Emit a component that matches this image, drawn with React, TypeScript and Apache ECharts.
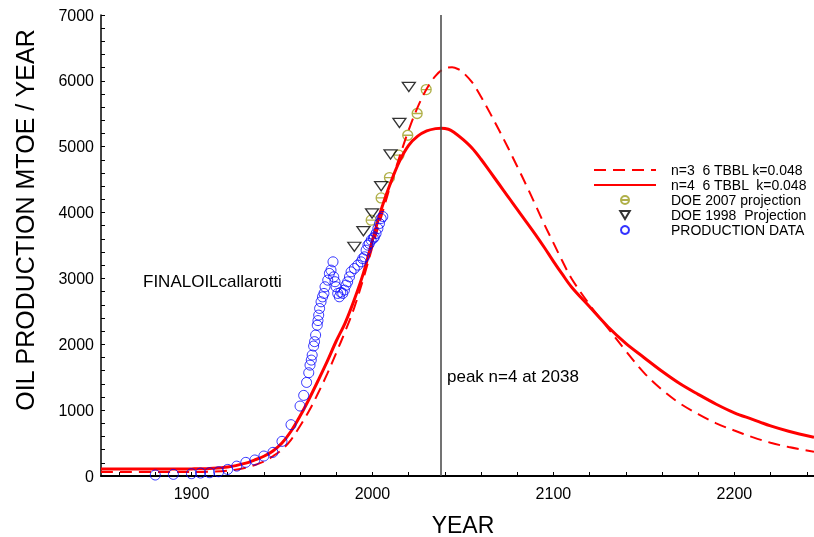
import React, { useEffect, useRef } from "react";
import * as echarts from "echarts";

const FONT = '"Liberation Sans", Arial, Helvetica, sans-serif';

const xLabelValues = [1900, 2000, 2100, 2200];
const xTickValues = [1860, 1880, 1900, 1920, 1940, 1960, 1980, 2000, 2020, 2040, 2060, 2080, 2100, 2120, 2140, 2160, 2180, 2200, 2220, 2240];

const seriesNames = [
  "n=3  6 TBBL k=0.048",
  "n=4  6 TBBL  k=0.048",
  "DOE 2007 projection",
  "DOE 1998  Projection",
  "PRODUCTION DATA",
];

const curveN3: [number, number][] = [
  [1850, 60], [1900, 60], [1910, 65], [1920, 80], [1930, 125], [1940, 220], [1945, 300],
  [1950, 400], [1955, 550], [1960, 760], [1965, 990], [1970, 1260], [1975, 1550],
  [1980, 1870], [1985, 2200], [1990, 2560], [1995, 3000], [2000, 3480], [2005, 3950],
  [2010, 4420], [2015, 4850], [2020, 5250], [2025, 5600], [2030, 5880], [2035, 6080],
  [2040, 6190], [2044, 6205], [2048, 6170], [2050, 6130], [2055, 5980], [2060, 5760],
  [2065, 5510], [2070, 5250], [2075, 4980], [2080, 4700], [2085, 4416], [2090, 4120],
  [2095, 3820], [2100, 3540], [2105, 3260], [2110, 3000], [2120, 2600], [2130, 2250],
  [2140, 1900], [2150, 1570], [2160, 1310], [2170, 1100], [2180, 940], [2190, 800],
  [2200, 690], [2210, 590], [2220, 505], [2230, 440], [2244, 369],
];

const curveN4: [number, number][] = [
  [1850, 105], [1870, 105], [1890, 106], [1900, 108], [1910, 115], [1920, 135], [1930, 195],
  [1935, 245], [1940, 300], [1945, 380], [1950, 500], [1955, 680], [1960, 910], [1965, 1170],
  [1970, 1450], [1975, 1740], [1980, 2050], [1985, 2330], [1990, 2680], [1995, 3080],
  [2000, 3580], [2005, 4060], [2010, 4450], [2015, 4780], [2020, 5020], [2025, 5160],
  [2030, 5240], [2035, 5275], [2038, 5280], [2042, 5265], [2045, 5220], [2050, 5110],
  [2055, 4980], [2060, 4810], [2065, 4620], [2070, 4430], [2075, 4240], [2080, 4050],
  [2085, 3860], [2090, 3670], [2095, 3470], [2100, 3260], [2105, 3060], [2110, 2870],
  [2120, 2569], [2130, 2270], [2140, 2013], [2150, 1800], [2160, 1590], [2170, 1400],
  [2180, 1240], [2190, 1090], [2200, 960], [2210, 860], [2220, 760], [2230, 680], [2244, 587],
];

const doe2007: [number, number][] = [
  [1999.3, 3885], [2004.8, 4223], [2009.4, 4532], [2014.6, 4871], [2019.5, 5174], [2024.7, 5504], [2029.7, 5868],
];

const doe1998: [number, number][] = [
  [1990, 3480], [1995, 3718], [1999.8, 3986], [2004.8, 4400], [2010, 4882], [2014.9, 5361], [2020.1, 5908],
];

const production: [number, number][] = [
  [1880, 15], [1890, 25], [1900, 35], [1905, 45], [1910, 50], [1915, 65], [1920, 100], [1925, 150],
  [1930, 207], [1935, 243], [1940, 303], [1945, 359], [1950, 526], [1955, 779], [1960, 1062],
  [1962, 1224], [1963.6, 1421], [1964.8, 1568], [1965.5, 1684], [1966.2, 1760], [1966.7, 1836],
  [1967.5, 1973], [1968, 2040], [1968.6, 2140], [1969.5, 2290], [1969.9, 2360], [1970.3, 2443],
  [1970.8, 2544], [1971.6, 2645], [1972.4, 2720], [1973.2, 2772], [1973.8, 2873], [1975.3, 2974],
  [1976.2, 3076], [1977.1, 3126], [1978.2, 3252], [1978.6, 3024], [1979.3, 2950], [1979.9, 2873],
  [1980.8, 2772], [1981.7, 2721], [1982.5, 2790], [1983.6, 2772], [1984.5, 2823], [1985.4, 2898],
  [1986.3, 2949], [1987.3, 3024], [1988.2, 3100], [1990, 3151], [1991.9, 3202], [1993.7, 3252],
  [1994.6, 3300], [1995.6, 3328], [1996.5, 3429], [1997.5, 3505], [1998.3, 3531], [1999.3, 3581],
  [2000.5, 3610], [2001.1, 3631], [2002, 3682], [2003, 3758], [2003.9, 3834], [2004.8, 3910], [2005.7, 3940],
];

const peakYear = 2038;

const OLIVE_SYMBOL = "path://M0,10A10,10 0 1,0 20,10A10,10 0 1,0 0,10ZM0,10L20,10";
const TRIANGLE_DOWN = "path://M0,0L12,0L6,10Z";

export default function App() {
  const ref = useRef<HTMLDivElement>(null);

  useEffect(() => {
    if (!ref.current) return;
    const chart = echarts.init(ref.current, undefined, { renderer: "svg" });
    const labelStyle = { color: "#000", fontSize: 16, fontFamily: FONT, formatter: (v: number) => String(v) };
    chart.setOption({
      animation: false,
      grid: { left: 101, right: 0, top: 15, bottom: 61 },
      xAxis: {
        type: "value",
        min: 1850,
        max: 2244,
        axisLine: { show: true, onZero: false, lineStyle: { color: "#000", width: 2 } },
        axisTick: { show: true, inside: true, length: 4, customValues: xTickValues, lineStyle: { color: "#000" } },
        axisLabel: { ...labelStyle, customValues: xLabelValues, margin: 9 },
        splitLine: { show: false },
      },
      yAxis: {
        type: "value",
        min: 0,
        max: 7000,
        interval: 1000,
        axisLine: { show: true, lineStyle: { color: "#000", width: 1.5 } },
        axisTick: { show: true, inside: true, length: 4, lineStyle: { color: "#000" } },
        minorTick: { show: true, splitNumber: 5, length: 4, lineStyle: { color: "#000" } },
        axisLabel: { ...labelStyle, margin: 7 },
        splitLine: { show: false },
      },
      legend: {
        orient: "vertical",
        left: 593,
        top: 163,
        padding: 0,
        itemWidth: 62,
        itemHeight: 8,
        itemGap: 1,
        selectedMode: false,
        textStyle: { fontSize: 14, fontFamily: FONT, color: "#000", lineHeight: 14, padding: [0, 0, 0, 10] },
        data: [
          { name: seriesNames[0], itemStyle: { opacity: 0 } },
          { name: seriesNames[1], itemStyle: { opacity: 0 } },
          { name: seriesNames[2] },
          { name: seriesNames[3] },
          { name: seriesNames[4] },
        ],
      },
      graphic: [
        {
          type: "text",
          x: 25,
          y: 220,
          rotation: Math.PI / 2,
          style: { text: "OIL PRODUCTION MTOE / YEAR", align: "center", verticalAlign: "middle", fontSize: 25, fontFamily: FONT, fill: "#000" },
        },
        {
          type: "text",
          x: 463,
          y: 525,
          style: { text: "YEAR", align: "center", verticalAlign: "middle", fontSize: 23, fontFamily: FONT, fill: "#000" },
        },
        {
          type: "text",
          x: 143,
          y: 281,
          style: { text: "FINALOILcallarotti", align: "left", verticalAlign: "middle", fontSize: 17, fontFamily: FONT, fill: "#000" },
        },
        {
          type: "text",
          x: 447,
          y: 376,
          style: { text: "peak n=4 at 2038", align: "left", verticalAlign: "middle", fontSize: 17, fontFamily: FONT, fill: "#000" },
        },
      ],
      series: [
        {
          name: seriesNames[0],
          type: "line",
          data: curveN3,
          smooth: 0.35,
          symbol: "none",
          lineStyle: { color: "#ff0000", width: 2, type: [12, 7] },
          itemStyle: { color: "#ff0000" },
          z: 3,
        },
        {
          name: seriesNames[1],
          type: "line",
          data: curveN4,
          smooth: 0.35,
          symbol: "none",
          lineStyle: { color: "#ff0000", width: 3 },
          itemStyle: { color: "#ff0000" },
          z: 3,
        },
        {
          name: seriesNames[2],
          type: "scatter",
          data: doe2007,
          symbol: OLIVE_SYMBOL,
          symbolSize: 10,
          symbolKeepAspect: true,
          itemStyle: { color: "transparent", borderColor: "#9c9c1c", borderWidth: 1.3 },
          z: 2,
        },
        {
          name: seriesNames[3],
          type: "scatter",
          data: doe1998,
          symbol: TRIANGLE_DOWN,
          symbolSize: [13, 11],
          symbolKeepAspect: true,
          itemStyle: { color: "transparent", borderColor: "#000", borderWidth: 1.3 },
          z: 2,
        },
        {
          name: seriesNames[4],
          type: "scatter",
          data: production,
          symbol: "circle",
          symbolSize: 10,
          itemStyle: { color: "transparent", borderColor: "#0000ff", borderWidth: 1 },
          z: 4,
          markLine: {
            silent: true,
            symbol: ["none", "none"],
            label: { show: false },
            lineStyle: { color: "#444", width: 1.5, type: "solid" },
            data: [{ xAxis: peakYear }],
          },
        },
      ],
    });
    return () => chart.dispose();
  }, []);

  return <div ref={ref} style={{ position: "fixed", left: 0, top: 0, width: 814, height: 537 }} />;
}
